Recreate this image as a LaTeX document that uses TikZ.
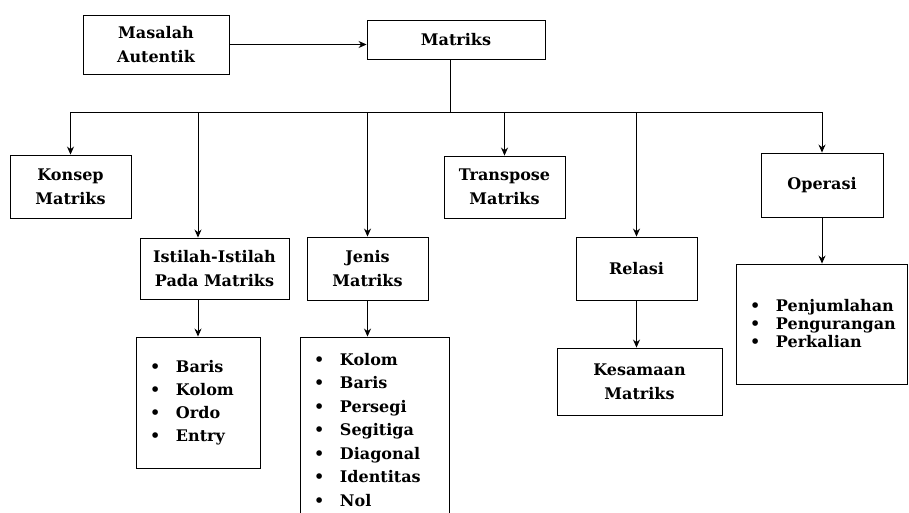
\documentclass[tikz,border=0pt]{standalone}
\usepackage{fontspec}
\setmainfont{DejaVu Serif}
\usepackage{tikz}
\usetikzlibrary{arrows.meta}

\newcommand{\itm}[1]{\makebox[26pt][l]{\textbullet}#1}

\begin{document}
\begin{tikzpicture}[->,>={Stealth[length=8pt,width=7pt]},line width=0.9pt,x=1pt,y=-1pt]

    \tikzstyle{box}=[rectangle,draw=black,text=black,align=center,inner sep=2pt,
                     font=\fontsize{16}{24}\selectfont\bfseries]
    \tikzstyle{listbox}=[box,align=left,inner xsep=14pt]

    \clip (0,0) rectangle (909,512);

    \node[box, minimum width=146, minimum height=59] (masalah)   at (156,44.5)  {Masalah\\Autentik};
    \node[box, minimum width=178, minimum height=39] (matriks)   at (456,39.5)  {Matriks};
    \node[box, minimum width=121, minimum height=63] (konsep)    at (70.5,186.5) {Konsep\\Matriks};
    \node[box, minimum width=149, minimum height=61] (istilah)   at (214.5,268.5) {Istilah-Istilah\\Pada Matriks};
    \node[box, minimum width=121, minimum height=63] (jenis)     at (367.5,268.5) {Jenis\\Matriks};
    \node[box, minimum width=121, minimum height=62] (transpose) at (504.5,187)  {Transpose\\Matriks};
    \node[box, minimum width=121, minimum height=63] (relasi)    at (636.5,268.5) {Relasi};
    \node[box, minimum width=122, minimum height=64] (operasi)   at (822,185)    {Operasi};
    \node[box, minimum width=165, minimum height=67] (kesamaan)  at (639.5,381.5) {Kesamaan\\Matriks};

    \node[listbox, text width=96, minimum height=131, font=\fontsize{16}{23}\selectfont\bfseries]
        (istilahlist) at (198,402.5) {\itm{Baris}\\\itm{Kolom}\\\itm{Ordo}\\\itm{Entry}};
    \node[listbox, text width=121, minimum height=186, font=\fontsize{16}{23.5}\selectfont\bfseries]
        (jenislist) at (374.5,430) {\itm{Kolom}\\\itm{Baris}\\\itm{Persegi}\\\itm{Segitiga}\\\itm{Diagonal}\\\itm{Identitas}\\\itm{Nol}};
    \node[listbox, text width=143, minimum height=120, font=\fontsize{16}{18}\selectfont\bfseries]
        (operasilist) at (821.5,324) {\itm{Penjumlahan}\\\itm{Pengurangan}\\\itm{Perkalian}};

    \coordinate (hub) at (450,112);

    \draw (masalah.east) -- (masalah.east -| matriks.west);
    \draw[-] (matriks.south -| hub) -- (hub);
    \draw[-] (hub -| konsep.north) -- (hub -| operasi.north);
    \foreach \n in {konsep,jenis,transpose,relasi,operasi}
        \draw (hub -| \n.north) -- (\n.north);
    \draw (hub -| istilahlist.north) -- (istilahlist.north |- istilah.north);

    \draw (istilahlist.north |- istilah.south) -- (istilahlist.north);
    \draw (jenis.south) -- (jenis.south |- jenislist.north);
    \draw (relasi.south) -- (relasi.south |- kesamaan.north);
    \draw (operasi.south) -- (operasi.south |- operasilist.north);

\end{tikzpicture}
\end{document}
